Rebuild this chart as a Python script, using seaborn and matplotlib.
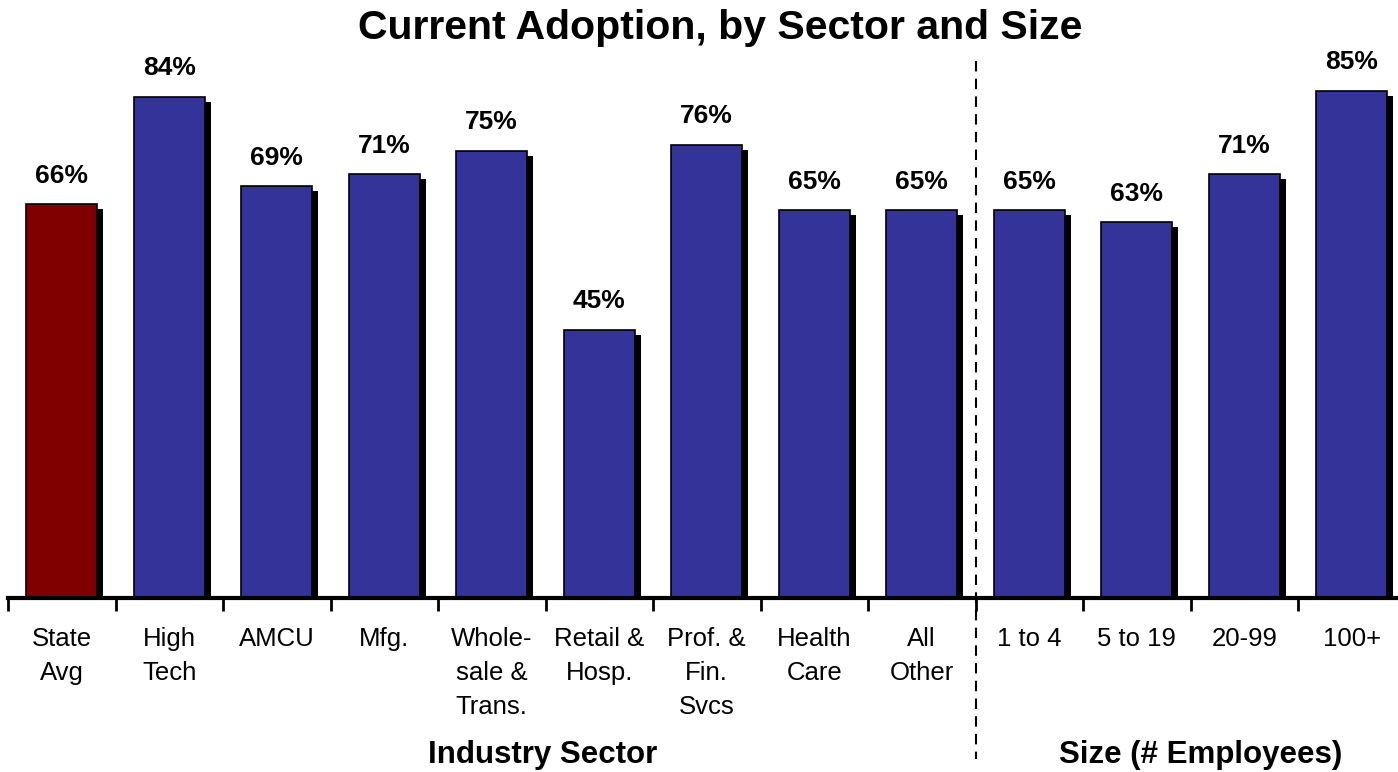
import matplotlib
matplotlib.use("Agg")
import matplotlib.pyplot as plt
import matplotlib.patheffects as pe
import seaborn as sns
import pandas as pd
import numpy as np

categories = ["State\nAvg", "High\nTech", "AMCU", "Mfg.", "Whole-\nsale &\nTrans.",
              "Retail &\nHosp.", "Prof. &\nFin.\nSvcs", "Health\nCare", "All\nOther",
              "1 to 4", "5 to 19", "20-99", "100+"]
values = [66, 84, 69, 71, 75, 45, 76, 65, 65, 65, 63, 71, 85]
groups = ["avg"] + ["sector"] * 8 + ["size"] * 4
title = "Current Adoption, by Sector and Size"
group_labels = ["Industry Sector", "Size (# Employees)"]

sns.set_theme(style="white")
plt.rcParams["font.family"] = ["Liberation Sans", "DejaVu Sans"]
plt.rcParams["text.color"] = "black"
plt.rcParams["xtick.color"] = "black"

df = pd.DataFrame({"cat": categories, "val": values, "grp": groups})
colors = ["#800000" if g == "avg" else "#333399" for g in groups]

fig = plt.figure(figsize=(13.98, 7.72), dpi=100)
ax = fig.add_axes([8 / 1398, 1 - 598 / 772, 1397.5 / 1398, (598 - 1.5) / 772])

sns.barplot(data=df, x="cat", y="val", hue="cat", palette=colors, legend=False,
            width=0.66, edgecolor="black", linewidth=1.2, saturation=1, ax=ax)

shadow = [pe.SimplePatchShadow(offset=(4.3, -3.6), shadow_rgbFace="black", alpha=1.0), pe.Normal()]
for p in ax.patches:
    p.set_path_effects(shadow)

for i, v in enumerate(values):
    ax.annotate(f"{v}%", (i, v), xytext=(0, 12), textcoords="offset points",
                ha="center", va="bottom", fontsize=19, fontweight="bold", color="black")

ax.set_ylim(0, 100)
ax.set_xlim(-0.5, len(categories) - 0.5)
ax.set_xlabel("")
ax.set_ylabel("")
ax.set_yticks([])
for s in ["left", "right", "top"]:
    ax.spines[s].set_visible(False)
ax.spines["bottom"].set_linewidth(3)
ax.spines["bottom"].set_color("black")

ax.set_xticks(range(len(categories)))
ax.set_xticklabels(categories, fontsize=18.5, linespacing=1.53, va="top", color="black")
ax.tick_params(axis="x", which="major", length=0, pad=21)
ax.set_xticks(np.arange(-0.5, len(categories), 1.0), minor=True)
ax.tick_params(axis="x", which="minor", length=9, width=2, direction="out", color="black", bottom=True)

# dashed separator between sector and size groups
ax.plot([8.5, 8.5], [90, -27], transform=ax.transData, clip_on=False,
        color="black", linestyle=(0, (5, 3.5)), linewidth=1.5)

fig.text(720 / 1398, 1 - 28 / 772, title, ha="center", va="center",
         fontsize=29.5, fontweight="bold", color="black")
fig.text(543 / 1398, 1 - 755 / 772, group_labels[0], ha="center", va="center",
         fontsize=22.5, fontweight="bold", color="black")
fig.text(1201 / 1398, 1 - 755 / 772, group_labels[1], ha="center", va="center",
         fontsize=22.5, fontweight="bold", color="black")

fig.savefig("out.png", dpi=100)
